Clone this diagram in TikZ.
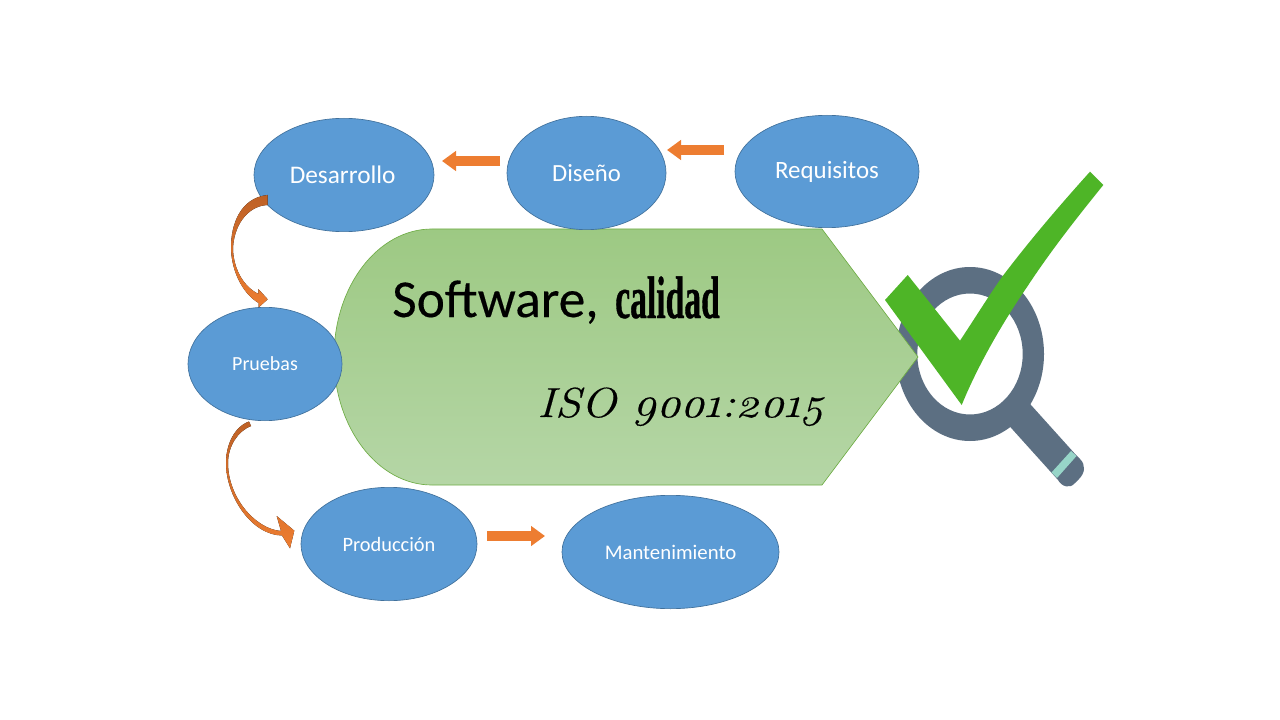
\documentclass[tikz,border=0pt]{standalone}
\usepackage{fontspec}
\usetikzlibrary{arrows.meta,shapes.geometric}
\setmainfont{Carlito}
\newfontfamily\softfont[FakeBold=0.25]{Carlito}
\newfontfamily\condfont[FakeStretch=0.56,FakeBold=0.6]{Liberation Serif Bold}
\newfontfamily\isofont[FakeStretch=1.12,Numbers=OldStyle,FakeBold=0.3]{Latin Modern Roman}
\definecolor{nodeblue}{HTML}{5B9BD5}
\definecolor{nodeedge}{HTML}{41719C}
\definecolor{arroworange}{HTML}{ED7D31}
\definecolor{arrowdark}{HTML}{BE6126}
\definecolor{slategray}{HTML}{5C6F82}
\definecolor{tealband}{HTML}{97D5C8}
\definecolor{checkgreen}{HTML}{4EB527}
\definecolor{bodytop}{HTML}{9DC983}
\definecolor{bodybot}{HTML}{B5D6A6}
\definecolor{bodyedge}{HTML}{70AD47}
\tikzset{
  stage/.style={ellipse,draw=nodeedge,line width=0.5pt,fill=nodeblue,text=white,inner sep=0pt,align=center,minimum height=85pt},
  blockarrow/.style={line width=7.5pt,arroworange,-{Triangle[length=10.5pt,width=14.5pt]}},
  curvedarrow/.style={top color=arrowdark,bottom color=arroworange},
  bigtext/.style={inner sep=0pt,anchor=base west,text=black}
}
\begin{document}
\begin{tikzpicture}[x=0.75pt,y=-0.75pt]
\useasboundingbox (0,0) rectangle (1280,720);
\fill[white] (0,0) rectangle (1280,720);
% magnifier
\fill[slategray,even odd rule] (970,354) ellipse [x radius=74,y radius=87] (970,354) ellipse [x radius=52.7,y radius=60.5];
\fill[slategray] (1003.3,419.3) -- (1024.3,397.6) -- (1031,405) -- (1076,455) -- (1080,459)
  .. controls (1086,465) and (1085,473) .. (1079,479) -- (1075,483)
  .. controls (1070,489) and (1062,487) .. (1058,480) -- (1010,426.7) -- cycle;
\fill[tealband] (1051.5,472.5) -- (1071,451) -- (1076.5,456) -- (1057,478) -- cycle;
% central shape
\draw[bodyedge,line width=0.5pt,top color=bodytop,bottom color=bodybot]
  (432,229) -- (822,229) -- (918,357) -- (822,485) -- (432,485)
  .. controls (378,485) and (334,428) .. (334,357)
  .. controls (334,286) and (378,229) .. (432,229) -- cycle;
\node[bigtext,font=\fontsize{40pt}{40pt}\softfont] (soft) at (392,317) {Software,};
\node[bigtext,font=\fontsize{45pt}{45pt}\condfont] (cal) at (615,318) {calidad};
\node[bigtext,font=\fontsize{31.5pt}{31.5pt}\isofont\itshape] (iso) at (537,417) {ISO 9001:2015};
% stages
\node[stage,minimum width=135pt,font=\fontsize{19pt}{19pt}\selectfont] (des) at (344,175) {\hspace*{-2pt}Desarrollo};
\node[stage,minimum width=119.25pt,font=\fontsize{18.5pt}{18.5pt}\selectfont] (dis) at (586.5,173) {Diseño};
\node[stage,minimum width=138pt,minimum height=84.25pt,font=\fontsize{18.7pt}{18.7pt}\selectfont] (req) at (827,171.5) {\raisebox{-1.5pt}{Requisitos}};
\node[stage,minimum width=115.5pt,font=\fontsize{15pt}{15pt}\selectfont] (pru) at (265,364) {Pruebas};
\node[stage,minimum width=132pt,font=\fontsize{15.3pt}{15.3pt}\selectfont] (pro) at (389,544) {Producción};
\node[stage,minimum width=162.75pt,font=\fontsize{15.6pt}{15.6pt}\selectfont] (man) at (670.5,552) {Mantenimiento};
% straight arrows
\coordinate (a1s) at (724,150); \coordinate (a1e) at (667,150);
\coordinate (a2s) at (500,161); \coordinate (a2e) at (442,161);
\coordinate (a3s) at (487,536); \coordinate (a3e) at (545,536);
\draw[blockarrow] (a1s) -- (a1e);
\draw[blockarrow] (a2s) -- (a2e);
\draw[blockarrow] (a3s) -- (a3e);
% curved arrows
\fill[curvedarrow] (267.5,195) .. controls (240,198) and (231,225) .. (231,247)
  .. controls (231,270) and (242,293) .. (258.5,303)
  -- (258.7,307.3) -- (267.7,299.3) -- (258.3,289) -- (258.5,294)
  .. controls (244,287) and (234,270) .. (233,250)
  .. controls (233,228) and (246,206) .. (267.5,205) -- cycle;
\fill[curvedarrow] (249,421.5) .. controls (234,427) and (226,445) .. (226,463)
  .. controls (226,497) and (252,535) .. (282,535.5)
  -- (290,548.3) -- (294.3,530.7) -- (276.7,516) -- (281,531)
  .. controls (255,529) and (228,497) .. (228,463)
  .. controls (228,446) and (238,431) .. (251,426) -- cycle;
% check mark
\fill[checkgreen] (885,300) -- (907.7,275) -- (960,340.7)
  .. controls (975,318) and (988,297) .. (1002,277)
  .. controls (1030,240) and (1060,205) .. (1090,171.7)
  -- (1103.3,185)
  .. controls (1075,220) and (1050,252) .. (1027,287)
  .. controls (1003,322) and (978,365) .. (961.7,405) -- cycle;
\end{tikzpicture}
\end{document}
